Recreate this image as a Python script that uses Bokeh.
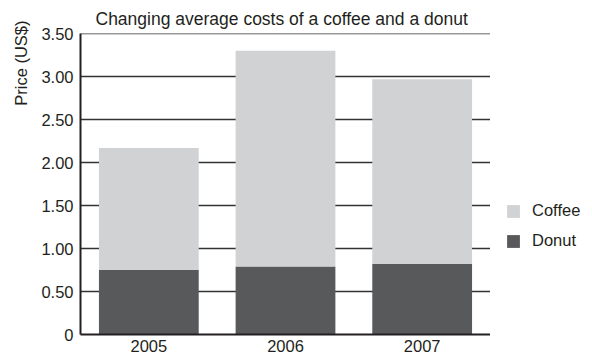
from bokeh.plotting import figure
from bokeh.layouts import row
from bokeh.models import (FactorRange, Range1d, FixedTicker, Legend, LegendItem,
                          Title, BoxAnnotation)
from bokeh.embed import file_html
from bokeh.resources import INLINE

years = ["2005", "2006", "2007"]
donut = [0.75, 0.79, 0.82]
coffee = [1.42, 2.51, 2.15]
y_ticks = [0, 0.5, 1.0, 1.5, 2.0, 2.5, 3.0, 3.5]
y_tick_labels = ["0", "0.50", "1.00", "1.50", "2.00", "2.50", "3.00", "3.50"]
series = ["donut", "coffee"]
series_labels = ["Donut", "Coffee"]
colors = ["#58595b", "#d1d2d4"]

FONT = "Liberation Sans"
INK = "#231f20"

data = {"year": years, "donut": donut, "coffee": coffee}

p = figure(x_range=FactorRange(*years, range_padding=0), y_range=Range1d(0, 3.502),
           width=490, height=358, output_backend="svg", toolbar_location=None,
           min_border_left=77, min_border_right=0, min_border_top=33,
           min_border_bottom=24)
p.outline_line_color = None
p.background_fill_color = "white"
p.border_fill_color = "white"

p.title.text = "Changing average costs of a coffee and a donut"
p.title.align = "left"
p.title.offset = 15
p.title.text_font = FONT
p.title.text_font_size = "17.5px"
p.title.text_font_style = "normal"
p.title.text_color = INK
p.title.standoff = 9

renderers = p.vbar_stack(series, x="year", width=0.73, color=colors, line_color=None,
                         source=data)

p.xgrid.grid_line_color = None
p.ygrid.grid_line_color = "#333333"
p.ygrid.grid_line_width = 1.5
p.ygrid.ticker = FixedTicker(ticks=y_ticks)

p.yaxis.ticker = FixedTicker(ticks=y_ticks)
p.yaxis.major_label_overrides = {t: l for t, l in zip(y_ticks, y_tick_labels)}
for ax in (p.xaxis[0], p.yaxis[0]):
    ax.axis_line_color = INK
    ax.axis_line_width = 2
    ax.major_tick_line_color = None
    ax.minor_tick_line_color = None
    ax.major_tick_out = 0
    ax.major_tick_in = 0
    ax.minor_tick_out = 0
    ax.major_label_text_font = FONT
    ax.major_label_text_font_size = "16.5px"
    ax.major_label_text_color = INK
p.yaxis.major_label_standoff = 7
p.xaxis.major_label_standoff = 5

ylabel = Title(text="Price (US$)", align="right", offset=-13, standoff=18,
               text_font=FONT, text_font_size="16.5px", text_font_style="normal",
               text_color=INK)
p.add_layout(ylabel, "left")

# legend panel (separate figure at the right; its frame aligns with the main frame)
q = figure(width=102, height=358, output_backend="svg", toolbar_location=None,
           x_range=Range1d(0, 102), y_range=Range1d(0, 301),
           x_axis_location=None, y_axis_location=None, min_border=0)
q.outline_line_color = None
q.grid.visible = False
q.background_fill_color = "white"
q.border_fill_color = "white"

nan = float("nan")
leg_renderers = {}
for name, color in zip(series, colors):
    leg_renderers[name] = q.vbar(x=[nan], top=[nan], width=1, color=color,
                                 line_color=None)

legend = Legend(items=[LegendItem(label=series_labels[1], renderers=[leg_renderers["coffee"]]),
                       LegendItem(label=series_labels[0], renderers=[leg_renderers["donut"]])],
                location=(15, 84), orientation="vertical",
                glyph_width=16, glyph_height=16, label_height=16,
                label_standoff=11, spacing=11, padding=0, margin=0,
                border_line_color=None, background_fill_alpha=0,
                label_text_font=FONT, label_text_font_size="16.5px",
                label_text_color=INK)
q.add_layout(legend)

corner = BoxAnnotation(left=37, right=140, top=-5, bottom=-40,
                       fill_color="white", fill_alpha=1,
                       line_color=INK, line_width=1.2)
q.add_layout(corner)

layout = row(p, q, spacing=0)
open("out.html", "w").write(file_html(layout, INLINE))
